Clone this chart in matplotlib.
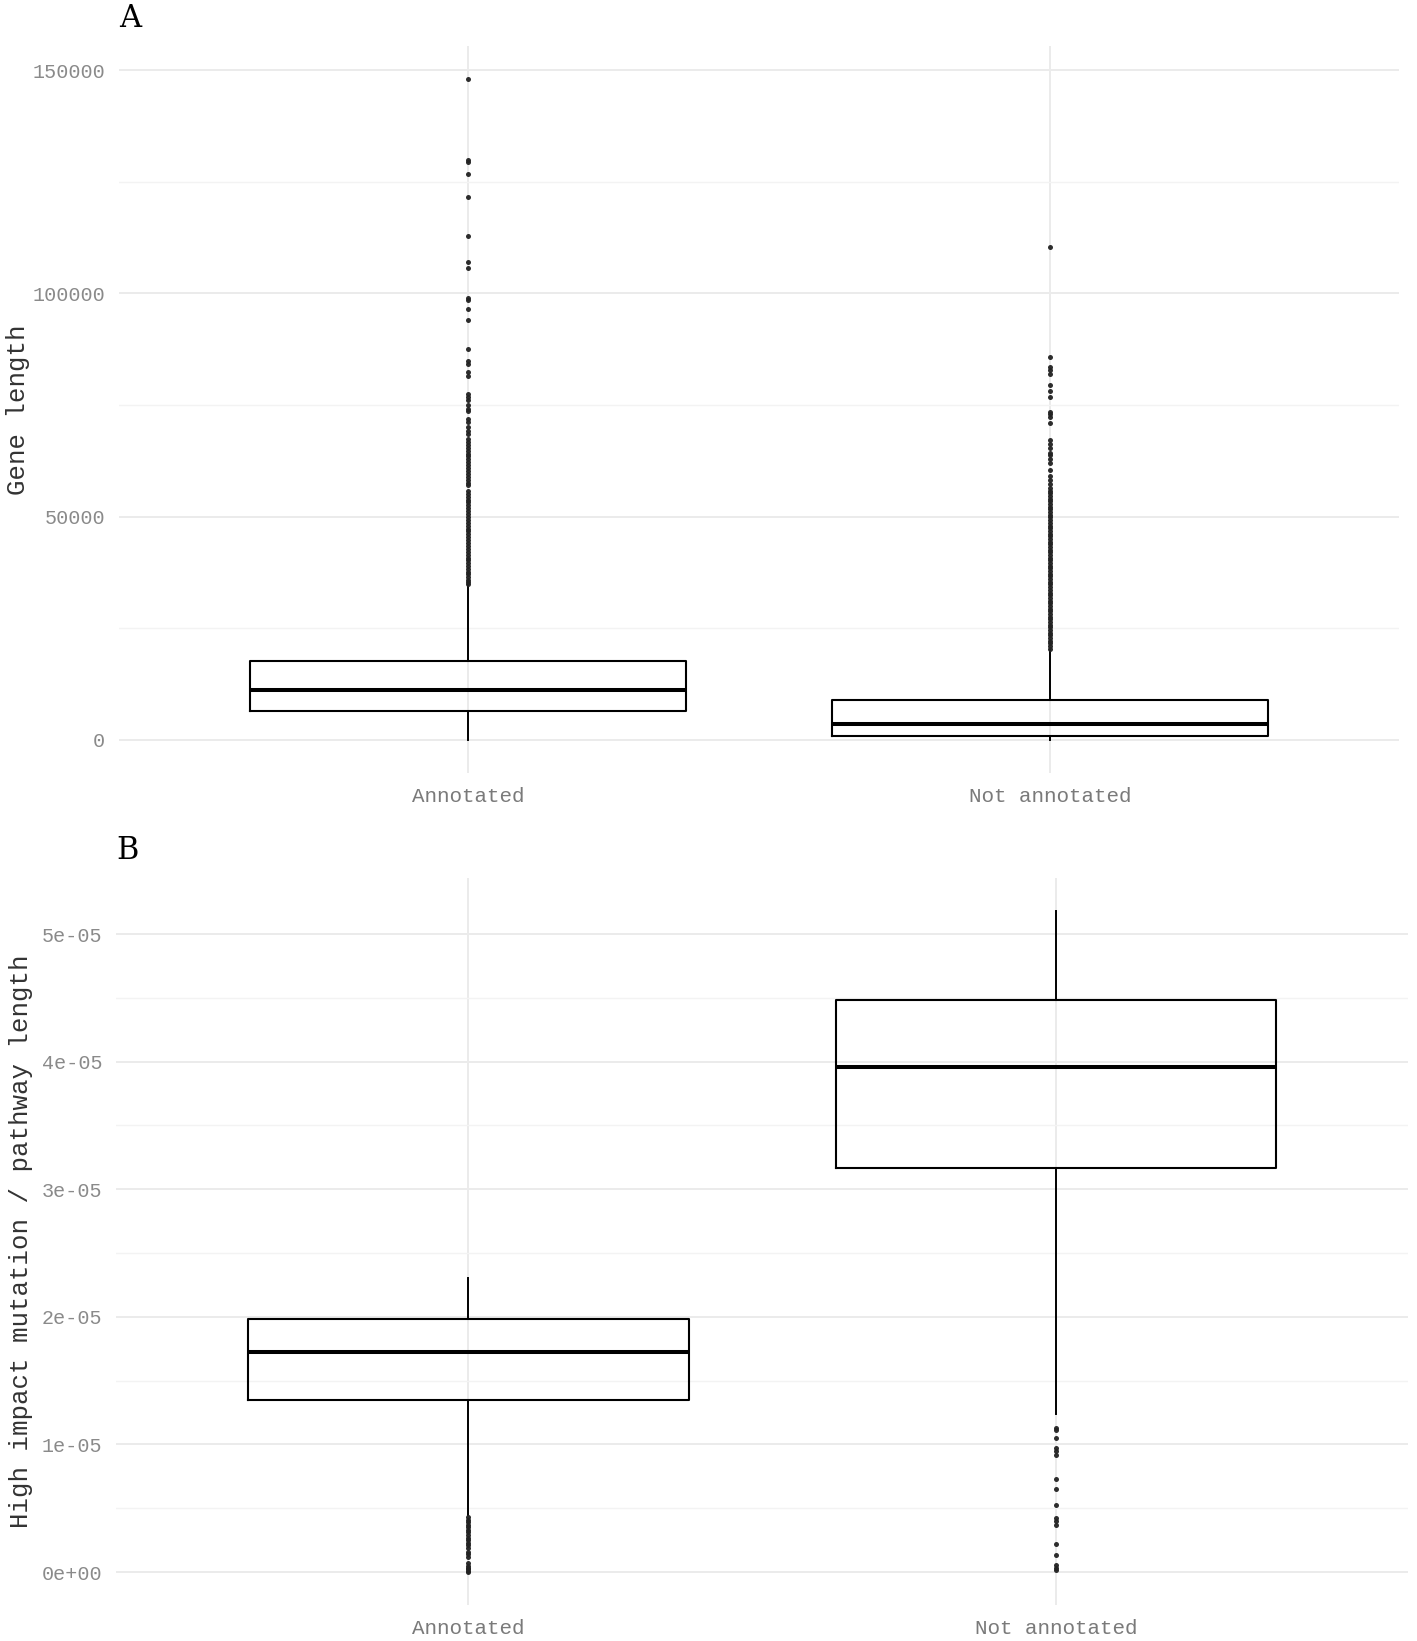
import matplotlib
matplotlib.use("Agg")
import matplotlib.pyplot as plt
from matplotlib.ticker import FixedLocator

plt.rcParams['font.family'] = ['Liberation Mono', 'DejaVu Sans Mono']

groups = ["Annotated", "Not annotated"]

# panel A: gene length box stats
len_q1 = [6400, 900]
len_med = [11200, 3500]
len_q3 = [17700, 8900]
len_lo = [0, 0]
len_hi = [34700, 20200]
len_out_annot = [34900, 35400, 35900, 36500, 37100, 37600, 38300, 38900, 39500,
                 40200, 40800, 41500, 42100, 42800, 43400, 44100, 44700, 45400,
                 46000, 46700, 47300, 48000, 48600, 49300, 49900, 50600, 51200,
                 51900, 52500, 53200, 53800, 54500, 55100, 55800, 57000, 57600,
                 58300, 58900, 59600, 60200, 60900, 61500, 62200, 62800, 63500,
                 64100, 64800, 65400, 66100, 66700, 67300, 68400, 69200, 70000,
                 71100, 71800, 73600, 74000, 75100, 76000, 76700, 77400, 81400,
                 82300, 84100, 84900, 87600, 94100, 96600, 98600, 99000, 105700,
                 107000, 112900, 121600, 126700, 129500, 129900, 147900]
len_out_not = [20400, 21000, 21600, 22200, 22800, 23400, 24000, 24600, 25200,
               25800, 26400, 27000, 27600, 28200, 28800, 29400, 30000, 30600,
               31200, 31800, 32400, 33000, 33600, 34200, 34800, 35400, 36000,
               36600, 37200, 37800, 38400, 39000, 39600, 40200, 40800, 41400,
               42000, 42600, 43200, 43800, 44400, 45000, 45600, 46200, 46800,
               47400, 48000, 48600, 49200, 49800, 50400, 51000, 51600, 52200,
               52800, 53400, 54000, 54600, 55200, 55800, 56500, 57300, 58200,
               59000, 60400, 62000, 62900, 63800, 64300, 65300, 66200, 67200,
               71000, 72400, 73000, 73500, 76700, 78200, 79500, 81900, 82800,
               83600, 85800, 110400]
len_ticks = [0, 50000, 100000, 150000]
len_minor = [25000, 75000, 125000]
len_labels = ["0", "50000", "100000", "150000"]

# panel B: high impact mutation / pathway length
rate_q1 = [1.352e-05, 3.17e-05]
rate_med = [1.726e-05, 3.958e-05]
rate_q3 = [1.98e-05, 4.483e-05]
rate_lo = [0.448e-05, 1.242e-05]
rate_hi = [2.308e-05, 5.18e-05]
rate_out_annot = [0.43e-05, 0.41e-05, 0.39e-05, 0.37e-05, 0.35e-05, 0.33e-05,
                  0.31e-05, 0.29e-05, 0.27e-05, 0.25e-05, 0.23e-05, 0.21e-05,
                  0.19e-05, 0.16e-05, 0.14e-05, 0.12e-05, 0.07e-05, 0.05e-05,
                  0.03e-05, 0.02e-05, 0.01e-05, 0.0]
rate_out_not = [1.125e-05, 1.11e-05, 1.047e-05, 0.97e-05, 0.95e-05, 0.92e-05,
                0.729e-05, 0.648e-05, 0.526e-05, 0.42e-05, 0.40e-05, 0.37e-05,
                0.221e-05, 0.13e-05, 0.057e-05, 0.035e-05, 0.018e-05]
rate_ticks = [0, 1e-05, 2e-05, 3e-05, 4e-05, 5e-05]
rate_minor = [0.5e-05, 1.5e-05, 2.5e-05, 3.5e-05, 4.5e-05]
rate_labels = ["0e+00", "1e-05", "2e-05", "3e-05", "4e-05", "5e-05"]


def stats(q1, med, q3, lo, hi, outs):
    res = []
    for i in range(len(q1)):
        res.append(dict(q1=q1[i], med=med[i], q3=q3[i], whislo=lo[i],
                        whishi=hi[i], fliers=outs[i]))
    return res


def draw(ax, st, ticks, minor, labels, ylab, title, lpad):
    ax.bxp(st, positions=[1, 2], widths=0.75, showcaps=False,
           boxprops=dict(color='black', linewidth=1.5),
           whiskerprops=dict(color='black', linewidth=1.4),
           medianprops=dict(color='black', linewidth=2.9),
           flierprops=dict(marker='o', markersize=3.6, markerfacecolor='#222222',
                           markeredgecolor='none', alpha=0.95))
    ax.set_xlim(0.4, 2.6)
    ax.set_xticks([1, 2])
    ax.set_xticklabels(groups)
    ax.set_yticks(ticks)
    ax.set_yticklabels(labels)
    ax.yaxis.set_minor_locator(FixedLocator(minor))
    ax.set_axisbelow(True)
    ax.grid(which='major', color='#ebebeb', linewidth=1.4)
    ax.grid(which='minor', axis='y', color='#f3f3f3', linewidth=1.0)
    for s in ax.spines.values():
        s.set_visible(False)
    ax.tick_params(which='both', length=0)
    ax.tick_params(axis='y', pad=10, labelsize=14.5, labelcolor='#8a8a8a')
    ax.tick_params(axis='x', pad=10, labelsize=15, labelcolor='#7a7a7a')
    ax.set_ylabel(ylab, fontsize=18.5, color='#333333', labelpad=lpad)
    ax.set_title(title, loc='left', fontsize=22, pad=14, fontfamily='DejaVu Serif')


fig = plt.figure(figsize=(14.17, 16.41), dpi=100)
ax1 = fig.add_axes([0.084, 0.529, 0.9033, 0.443])
ax2 = fig.add_axes([0.0819, 0.0219, 0.912, 0.443])

draw(ax1, stats(len_q1, len_med, len_q3, len_lo, len_hi, [len_out_annot, len_out_not]),
     len_ticks, len_minor, len_labels, "Gene length", "A", 2)
ax1.set_ylim(-7400, 155400)

draw(ax2, stats(rate_q1, rate_med, rate_q3, rate_lo, rate_hi, [rate_out_annot, rate_out_not]),
     rate_ticks, rate_minor, rate_labels, "High impact mutation / pathway length", "B", 6)
ax2.set_ylim(-0.259e-05, 5.439e-05)

fig.savefig("out.png", dpi=100)
